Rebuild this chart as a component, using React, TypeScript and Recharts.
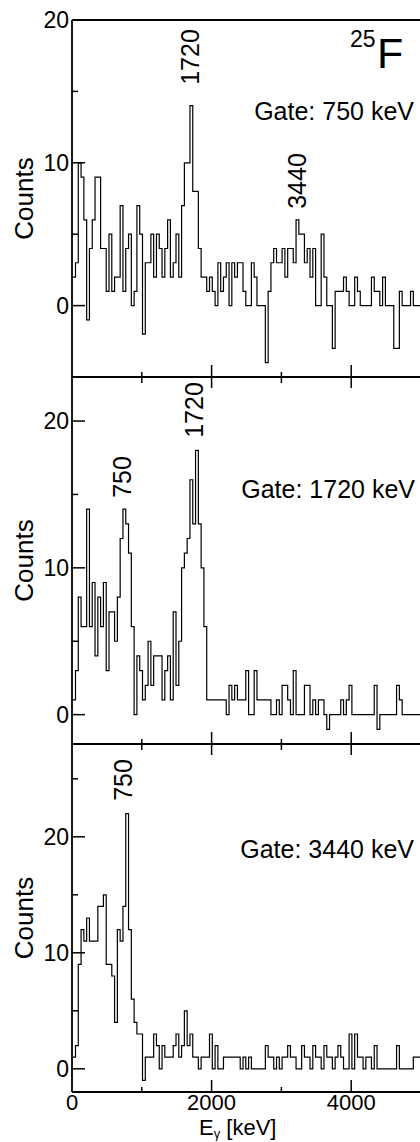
import React from 'react';
import { LineChart, Line, XAxis, YAxis } from 'recharts';

// gamma spectra in coincidence, 40 keV bins starting at 10 keV
const BIN_WIDTH = 40;
const BIN_START = 10;
const X_MAX = 5000;
const X_TICKS = [0, 1000, 2000, 3000, 4000];

const gate750Counts = [
  2, 3, 10, 9, 6, -1, 4, 6, 9, 9,
  4, 4, 1, 5, 1, 2, 2, 7, 1, 4,
  5, 0, 1, 7, 5, -2, 3, 3, 5, 2,
  5, 4, 2, 4, 6, 2, 3, 5, 2, 7,
  10, 10, 14, 8, 8, 4, 2, 2, 1, 2,
  1, 0, 3, 1, 2, 3, 0, 3, 2, 3,
  3, 1, 0, 0, 3, 2, 0, 0, 0, -4,
  1, 3, 4, 3, 3, 4, 2, 4, 4, 3,
  6, 5, 5, 3, 4, 2, 4, 0, 0, 5,
  2, 0, 0, -3, 1, 1, 1, 2, 1, 0,
  0, 2, 1, 0, 0, 0, 0, 2, 1, 1,
  0, 2, 0, 0, 0, -3, -3, 1, 0, 0,
  0, 1, 0, 0, 0,
];

const gate1720Counts = [
  1, 3, 8, 6, 6, 14, 6, 9, 4, 8,
  6, 9, 3, 7, 7, 5, 8, 12, 14, 13,
  11, 6, 0, 4, 3, 1, 2, 5, 2, 4,
  4, 4, 1, 3, 4, 1, 7, 2, 5, 10,
  11, 12, 16, 13, 18, 13, 10, 6, 1, 1,
  1, 1, 1, 1, 1, 0, 2, 1, 2, 1,
  1, 1, 3, 0, 0, 3, 1, 1, 1, 1,
  1, 0, 0, 1, 0, 2, 2, 1, 0, 3,
  0, 0, 0, 2, 2, 0, 1, 0, 1, 1,
  0, -1, 0, 0, 0, 0, 1, 0, 1, 2,
  0, 0, 0, 0, 0, 0, 0, 0, 2, -1,
  0, 0, 0, 0, 0, 0, 2, 1, 0, 0,
  0, 0, 0, 0, 0,
];

const gate3440Counts = [
  1, 2, 9, 12, 11, 13, 11, 11, 11, 14,
  14, 15, 9, 9, 8, 4, 12, 11, 14, 22,
  12, 6, 4, 3, 3, -1, 1, 1, 1, 3,
  2, 0, 2, 1, 1, 1, 2, 3, 1, 2,
  5, 2, 3, 1, 1, 0, 1, 1, 1, 3,
  0, 2, 0, 0, 1, 1, 1, 1, 1, 1,
  0, 1, 0, 1, 0, 0, 0, 0, 0, 2,
  1, 1, 0, 1, 0, 1, 1, 2, 1, 1,
  0, 0, 2, 1, 1, 0, 2, 1, 1, 0,
  2, 1, 1, 0, 1, 2, 1, 0, 0, 3,
  0, 3, 1, 1, 0, 1, 1, 0, 2, 0,
  0, 0, 0, 0, 0, 0, 2, 0, 0, 0,
  0, 0, 1, 1, 1,
];

const gate750Ticks = [0, 5, 10, 15, 20];
const gate1720Ticks = [0, 5, 10, 15, 20];
const gate3440Ticks = [0, 5, 10, 15, 20, 25];

const gateLabels = ['Gate: 750 keV', 'Gate: 1720 keV', 'Gate: 3440 keV'];
const peakLabels = [['1720', '3440'], ['750', '1720'], ['750']];

const FONT = '"Liberation Sans", Arial, Helvetica, sans-serif';
const AXIS_LINE = { stroke: '#000', strokeWidth: 1.8 };

const PANELS = [
  { counts: gate750Counts, ticks: gate750Ticks, domain: [-5, 20], top: 20, height: 357, topTicks: false, xLabels: false },
  { counts: gate1720Counts, ticks: gate1720Ticks, domain: [-2, 23], top: 377, height: 367, topTicks: true, xLabels: false },
  { counts: gate3440Counts, ticks: gate3440Ticks, domain: [-2, 28], top: 744, height: 348, topTicks: true, xLabels: true },
];

// annotation placement (pixels)
const GATE_POS = [{ x: 414, y: 120 }, { x: 415, y: 498 }, { x: 414, y: 858 }];
const PEAK_POS = [
  [{ x: 190, y: 57 }, { x: 297, y: 181 }],
  [{ x: 122, y: 477 }, { x: 194, y: 410 }],
  [{ x: 123, y: 780 }],
];

function toBins(counts: number[]) {
  const rows = counts.map((c, i) => ({ e: BIN_START + i * BIN_WIDTH, c }));
  rows.push({ e: X_MAX, c: counts[counts.length - 1] });
  return rows;
}

const LeftTick = (props: any) => {
  const { x, y, payload } = props;
  const v = payload.value;
  const major = v % 10 === 0;
  return (
    <g>
      <line x1={x} y1={y} x2={x + (major ? 13 : 6)} y2={y} stroke="#000" strokeWidth={1.5} />
      {major && (
        <text x={x - 3} y={y + 8} textAnchor="end" fontSize={23} fontFamily={FONT} fill="#000">
          {v}
        </text>
      )}
    </g>
  );
};

const BottomTick = (props: any) => {
  const { x, y, payload, showLabels } = props;
  const v = payload.value;
  const major = v % 2000 === 0;
  return (
    <g>
      {v > 0 && <line x1={x} y1={y} x2={x} y2={y - (major ? 12 : 5)} stroke="#000" strokeWidth={1.5} />}
      {showLabels && major && (
        <text x={x} y={y + 18} textAnchor="middle" fontSize={22} fontFamily={FONT} fill="#000">
          {v}
        </text>
      )}
    </g>
  );
};

const TopTick = (props: any) => {
  const { x, y, payload } = props;
  const v = payload.value;
  if (v <= 0) return <g />;
  const major = v % 2000 === 0;
  return <line x1={x} y1={y} x2={x} y2={y + (major ? 11 : 6)} stroke="#000" strokeWidth={1.5} />;
};

function Panel({ counts, ticks, domain, top, height, topTicks, xLabels }: any) {
  const mt = 12;
  const mb = xLabels ? 48 : 6;
  // each x axis takes 1px band so it still renders
  return (
    <div style={{ position: 'absolute', left: 0, top: top - mt - 1 }}>
      <LineChart
        width={421}
        height={mt + height + mb + 2}
        data={toBins(counts)}
        margin={{ top: mt, right: 0, bottom: mb, left: 0 }}
      >
        <XAxis
          xAxisId="bottom"
          dataKey="e"
          type="number"
          domain={[0, X_MAX]}
          ticks={X_TICKS}
          interval={0}
          orientation="bottom"
          height={1}
          tickSize={0}
          tickMargin={0}
          tickLine={false}
          axisLine={AXIS_LINE}
          allowDataOverflow
          tick={(p: any) => <BottomTick {...p} showLabels={xLabels} />}
        />
        <XAxis
          xAxisId="top"
          dataKey="e"
          type="number"
          domain={[0, X_MAX]}
          ticks={X_TICKS}
          interval={0}
          orientation="top"
          height={1}
          tickSize={0}
          tickMargin={0}
          tickLine={false}
          axisLine={topTicks ? false : AXIS_LINE}
          allowDataOverflow
          tick={topTicks ? (p: any) => <TopTick {...p} /> : false}
        />
        <YAxis
          type="number"
          domain={domain}
          ticks={ticks}
          interval={0}
          width={72}
          tickSize={0}
          tickMargin={0}
          tickLine={false}
          axisLine={AXIS_LINE}
          allowDataOverflow
          tick={(p: any) => <LeftTick {...p} />}
        />
        <Line
          xAxisId="bottom"
          type="stepAfter"
          dataKey="c"
          stroke="#000"
          strokeWidth={1.2}
          dot={false}
          activeDot={false}
          isAnimationActive={false}
        />
      </LineChart>
    </div>
  );
}

export default function App() {
  return (
    <div
      style={{
        position: 'absolute',
        left: 0,
        top: 0,
        width: 420,
        height: 1142,
        overflow: 'hidden',
        background: '#fff',
      }}
    >
      {PANELS.map((p, i) => (
        <Panel key={i} {...p} />
      ))}
      <svg
        width={420}
        height={1142}
        style={{ position: 'absolute', left: 0, top: 0, pointerEvents: 'none' }}
        fontFamily={FONT}
        fill="#000"
      >
        <text x={350} y={47} fontSize={23}>25</text>
        <text x={377} y={68} fontSize={43}>F</text>
        {gateLabels.map((g, i) => (
          <text key={g} x={GATE_POS[i].x} y={GATE_POS[i].y} fontSize={25} textAnchor="end">
            {g}
          </text>
        ))}
        {peakLabels.map((list, i) =>
          list.map((lab, j) => {
            const pos = PEAK_POS[i][j];
            return (
              <text
                key={`${i}-${j}`}
                x={pos.x}
                y={pos.y}
                fontSize={25}
                textAnchor="middle"
                dominantBaseline="central"
                transform={`rotate(-90, ${pos.x}, ${pos.y})`}
              >
                {lab}
              </text>
            );
          })
        )}
        {PANELS.map((p, i) => {
          const cy = p.top + p.height / 2;
          return (
            <text
              key={`c${i}`}
              x={24}
              y={cy}
              fontSize={26}
              textAnchor="middle"
              dominantBaseline="central"
              transform={`rotate(-90, 24, ${cy})`}
            >
              Counts
            </text>
          );
        })}
        <text x={199} y={1135} fontSize={22}>
          E<tspan fontSize={13} dy={3}>γ</tspan>
          <tspan fontSize={22} dy={-3}> [keV]</tspan>
        </text>
      </svg>
    </div>
  );
}
